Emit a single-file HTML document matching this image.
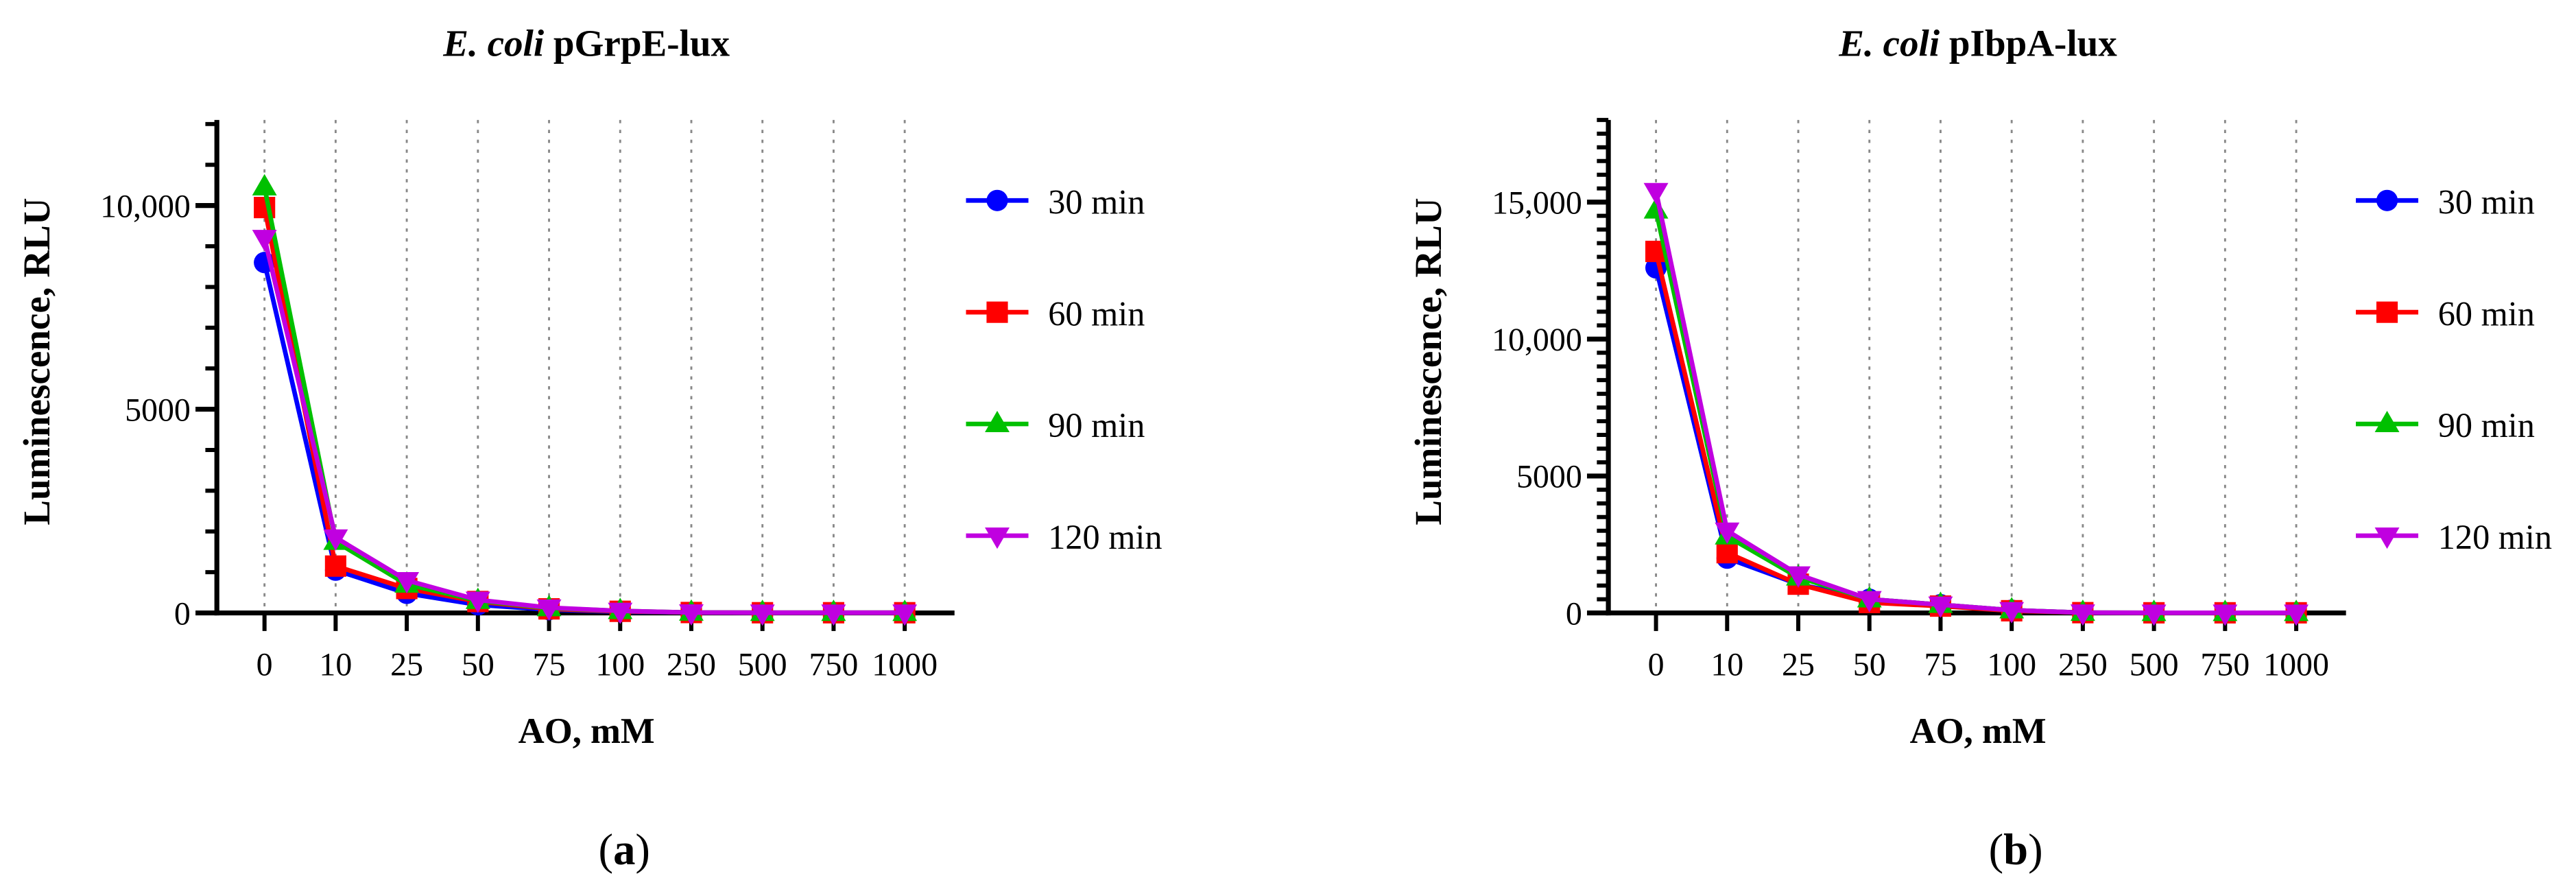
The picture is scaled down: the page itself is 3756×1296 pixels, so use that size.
<!DOCTYPE html>
<html><head><meta charset="utf-8"><style>html,body{margin:0;padding:0;background:#fff}svg{display:block}</style></head>
<body>
<svg id="fig" width="3756" height="1296" viewBox="0 0 1568 541" preserveAspectRatio="none" xmlns="http://www.w3.org/2000/svg" font-family="'Liberation Serif', serif"></svg>
<script>
const categories = ["0","10","25","50","75","100","250","500","750","1000"];
const seriesNames = ["30 min","60 min","90 min","120 min"];
const colors = ["#0000ff","#ff0000","#00c000","#c000e0"];
const markers = ["circle","square","triangle","tridown"];
const aS30 = [8600,1050,480,200,80,30,10,5,5,5];
const aS60 = [9950,1150,600,280,100,40,10,5,5,5];
const aS90 = [10450,1750,700,300,120,50,10,5,5,5];
const aS120 = [9200,1850,800,320,130,50,10,5,5,5];
const bS30 = [12600,2000,1050,500,300,100,10,5,5,5];
const bS60 = [13200,2200,1050,380,250,80,10,5,5,5];
const bS90 = [14700,2800,1300,500,300,100,10,5,5,5];
const bS120 = [15400,3000,1400,500,300,100,10,5,5,5];
const aTicks = [0,5000,10000];
const aTickLabels = ["0","5000","10,000"];
const bTicks = [0,5000,10000,15000];
const bTickLabels = ["0","5000","10,000","15,000"];

const NS="http://www.w3.org/2000/svg";
const svg=document.getElementById('fig');
function mk(tag,attrs,parent){const e=document.createElementNS(NS,tag);for(const k in attrs)e.setAttribute(k,attrs[k]);(parent||svg).appendChild(e);return e;}
function marker(g,type,x,y,c){
  if(type==="circle")return mk('circle',{cx:x,cy:y,r:6.5,fill:c},g);
  if(type==="square")return mk('rect',{x:x-6.5,y:y-6.5,width:13,height:13,fill:c},g);
  if(type==="triangle")return mk('polygon',{points:`${x},${y-8} ${x-7.5},${y+5} ${x+7.5},${y+5}`,fill:c},g);
  return mk('polygon',{points:`${x},${y+8} ${x-7.5},${y-5} ${x+7.5},${y-5}`,fill:c},g);
}
function chart(o){
  const g=mk('g',{});
  
  
  const y0=373, yTop=73;
  const ys=v=>y0-(v/o.ymax)*(y0-yTop);
  const xs=i=>o.x0+29+i*43.3;
  categories.forEach((c,i)=>{
    const l=mk('line',{x1:xs(i),x2:xs(i),y1:yTop,y2:y0,stroke:'#888','stroke-width':1.2,'stroke-dasharray':'2,4'},g);
    
    
  });
  const ya=mk('line',{x1:o.x0,x2:o.x0,y1:yTop,y2:y0+1.5,stroke:'#000','stroke-width':3},g);
  
  
  const xa=mk('line',{x1:o.x0-1.5,x2:o.x0+449,y1:y0,y2:y0,stroke:'#000','stroke-width':3},g);
  
  
  for(let v=0;v<=o.ymax;v+=o.minor){mk('line',{x1:o.x0-7,x2:o.x0,y1:ys(v),y2:ys(v),stroke:'#000','stroke-width':2.5},g);}
  o.ticks.forEach((v,i)=>{
    mk('line',{x1:o.x0-13,x2:o.x0,y1:ys(v),y2:ys(v),stroke:'#000','stroke-width':3},g);
    const t=mk('text',{x:o.x0-16,y:ys(v)+7,'text-anchor':'end','font-size':20},g);
    t.textContent=o.tickLabels[i];
    
    
  });
  categories.forEach((c,i)=>{
    mk('line',{x1:xs(i),x2:xs(i),y1:y0,y2:y0+11,stroke:'#000','stroke-width':2.5},g);
    const t=mk('text',{x:xs(i),y:411,'text-anchor':'middle','font-size':20},g);
    t.textContent=c;
    
    
  });
  const xt=mk('text',{x:o.x0+225,y:452,'text-anchor':'middle','font-size':22,'font-weight':'bold'},g);
  xt.textContent="AO, mM";
  
  
  const yt=mk('text',{x:0,y:0,'text-anchor':'middle','font-size':23,'font-weight':'bold',transform:`translate(${o.x0-102},220) rotate(-90)`},g);
  yt.textContent="Luminescence, RLU";
  
  
  const ti=mk('text',{x:o.x0+225,y:34,'text-anchor':'middle','font-size':23,'font-weight':'bold'},g);
  ti.innerHTML='<tspan font-style="italic">E. coli</tspan> '+o.title;
  
  
  o.series.forEach((s,k)=>{
    const sg=mk('g',{},g);
    
    
    const p=mk('polyline',{points:s.map((v,i)=>xs(i)+','+ys(v)).join(' '),fill:'none',stroke:colors[k],'stroke-width':2.8},sg);
    
    
    s.forEach((v,i)=>{
      const m=marker(sg,markers[k],xs(i),ys(v),colors[k]);
      
      
    });
  });
  seriesNames.forEach((n,k)=>{
    const ly=122+k*68;
    const lg=mk('g',{},g);
    
    
    mk('line',{x1:o.lx,x2:o.lx+38,y1:ly,y2:ly,stroke:colors[k],'stroke-width':2.8},lg);
    marker(lg,markers[k],o.lx+19,ly,colors[k]);
    const t=mk('text',{x:o.lx+50,y:ly+8,'font-size':21},lg);
    t.textContent=n;
  });
  const panel=mk('text',{x:o.x0+248,y:526,'text-anchor':'middle','font-size':27},g);
  panel.innerHTML='(<tspan font-weight="bold">'+o.panel+'</tspan>)';
  
  
}
chart({name:'chart-a',x0:132,ymax:12100,minor:1000,ticks:aTicks,tickLabels:aTickLabels,title:'pGrpE-lux',series:[aS30,aS60,aS90,aS120],lx:588,panel:'a'});
chart({name:'chart-b',x0:979,ymax:18000,minor:500,ticks:bTicks,tickLabels:bTickLabels,title:'pIbpA-lux',series:[bS30,bS60,bS90,bS120],lx:1434,panel:'b'});
</script>
</body></html>
